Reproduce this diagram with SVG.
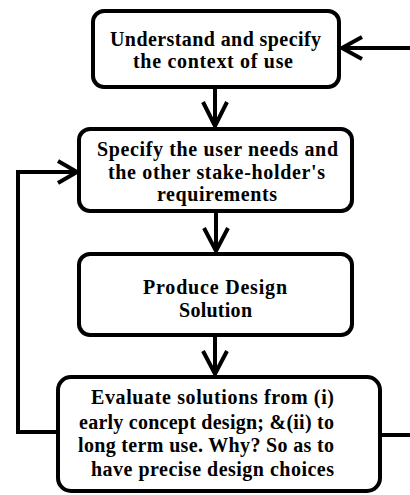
<svg xmlns="http://www.w3.org/2000/svg" width="410" height="495" viewBox="0 0 410 495">
  <style>
    .box { fill: #ffffff; stroke: #000000; stroke-width: 4; }
    .wire { fill: none; stroke: #000000; stroke-width: 4; stroke-linejoin: miter; }
    .head { fill: none; stroke: #000000; stroke-width: 4; stroke-linejoin: miter; }
    .lbl { font-family: "Liberation Serif", "Times New Roman", serif; font-weight: bold; font-size: 20px; fill: #000000; }
  </style>
  <rect width="410" height="495" fill="#ffffff"/>

  <!-- connectors -->
  <g id="connectors">
    <!-- incoming line from the right into the first step -->
    <line class="wire" x1="410" y1="48" x2="342" y2="48"/>
    <polyline class="head" points="362,37 342,48 362,59"/>
    <!-- step 1 to step 2 -->
    <line class="wire" x1="215" y1="89" x2="215" y2="126"/>
    <polyline class="head" points="203,102 215,126 227,102"/>
    <!-- step 2 to step 3 -->
    <line class="wire" x1="216" y1="213" x2="216" y2="251"/>
    <polyline class="head" points="204,228 216,251 228,228"/>
    <!-- step 3 to step 4 -->
    <line class="wire" x1="215" y1="337" x2="215" y2="374"/>
    <polyline class="head" points="203,351 215,374 227,351"/>
    <!-- feedback loop from evaluation back to user needs -->
    <polyline class="wire" points="57,432 18,432 18,172 77,172"/>
    <polyline class="head" points="58,161 77,172 58,183"/>
    <!-- outgoing line to the right from evaluation -->
    <line class="wire" x1="381" y1="435" x2="410" y2="435"/>
  </g>

  <g id="context">
    <rect class="box" x="93" y="11" width="246" height="76" rx="11"/>
    <text class="lbl" x="110" y="46" textLength="211" lengthAdjust="spacing">Understand and specify</text>
    <text class="lbl" x="133" y="68" textLength="160" lengthAdjust="spacing">the context of use</text>
  </g>

  <g id="needs">
    <rect class="box" x="79" y="129" width="273" height="82" rx="11"/>
    <text class="lbl" x="97" y="156" textLength="241" lengthAdjust="spacing">Specify the user needs and</text>
    <text class="lbl" x="108" y="179" textLength="217" lengthAdjust="spacing">the other stake-holder's</text>
    <text class="lbl" x="157" y="201" textLength="120" lengthAdjust="spacing">requirements</text>
  </g>

  <g id="design">
    <rect class="box" x="79" y="254" width="273" height="81" rx="11"/>
    <text class="lbl" x="143" y="294" textLength="144" lengthAdjust="spacing">Produce Design</text>
    <text class="lbl" x="179" y="317" textLength="73" lengthAdjust="spacing">Solution</text>
  </g>

  <g id="evaluate">
    <rect class="box" x="58" y="377" width="322" height="114" rx="13"/>
    <text class="lbl" x="91" y="404" textLength="243" lengthAdjust="spacing">Evaluate solutions from (i)</text>
    <text class="lbl" x="79" y="429" textLength="255" lengthAdjust="spacing">early concept design; &amp;(ii) to</text>
    <text class="lbl" x="78" y="452" textLength="256" lengthAdjust="spacing">long term use. Why?  So as to</text>
    <text class="lbl" x="91" y="476" textLength="243" lengthAdjust="spacing">have precise design choices</text>
  </g>
</svg>
